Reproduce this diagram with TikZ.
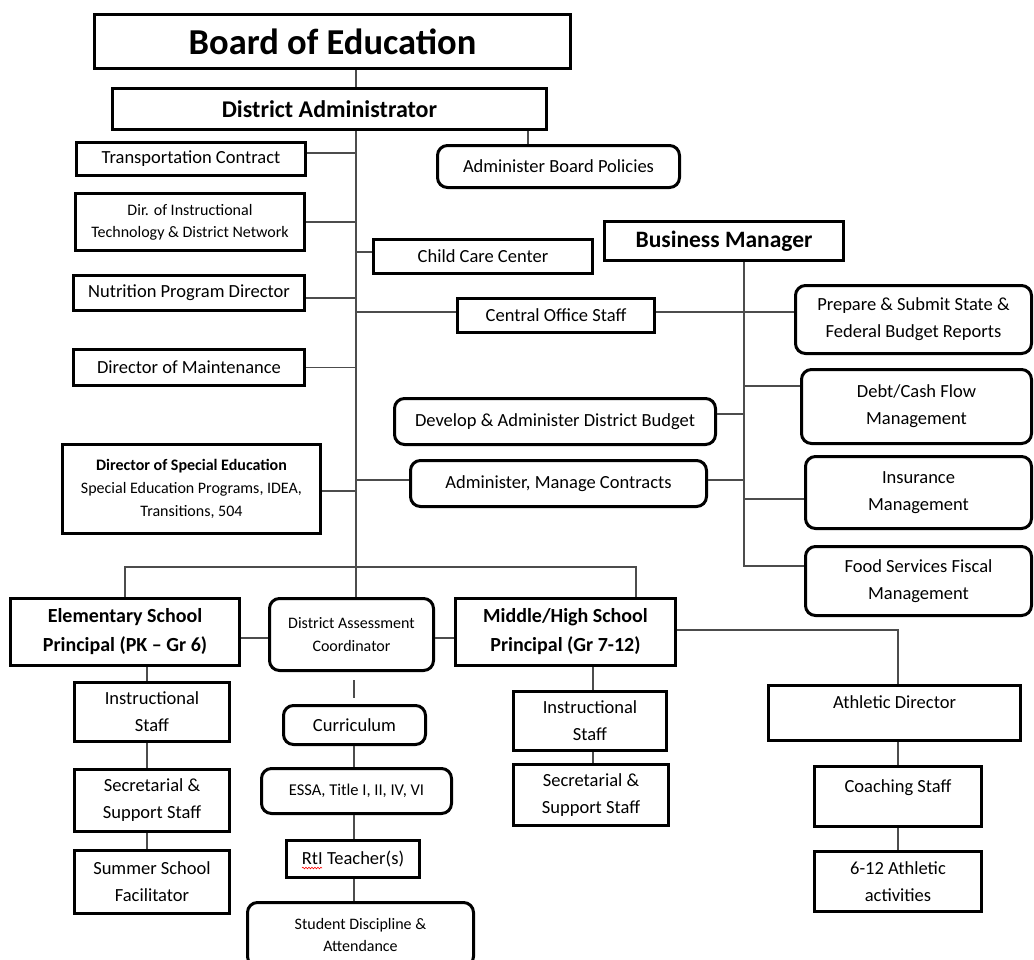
\documentclass[tikz,border=0pt]{standalone}
\usepackage{fontspec}
\setmainfont{Carlito}
\usetikzlibrary{decorations.pathmorphing}
\begin{document}
\begin{tikzpicture}[x=1pt,y=-1pt,
  box/.style={draw=black, line width=3pt, inner sep=2pt, align=center, fill=white, font=\fontsize{18.5}{27}\selectfont},
  rbox/.style={box, rounded corners=10pt},
  sz/.style 2 args={minimum width=#1pt, minimum height=#2pt},
  bold20/.style={font=\fontsize{20}{29}\selectfont\bfseries},
  small16/.style={font=\fontsize{16}{23}\selectfont},
  conn/.style={draw=black!70, line width=1.3pt}]
\useasboundingbox (0,0) rectangle (1034,959);
\clip (0,0) rectangle (1034,959);
\fill[white] (0,0) rectangle (1034,959);

% nodes
\node[box, sz={476}{54}, line width=3.5pt, font=\fontsize{36.5}{40}\selectfont\bfseries] (board) at (332.5,41.5) {Board of Education};
\node[box, sz={434}{41}, font=\fontsize{24}{28}\selectfont\bfseries] (da) at (329.5,109) {District Administrator};
\node[box, sz={229}{33}] (trans) at (191,159) {Transportation Contract};
\node[rbox, sz={242}{42}] (abp) at (558.5,166.5) {Administer Board Policies};
\node[box, sz={229}{57}, font=\fontsize{16}{22}\selectfont] (dit) at (190,222) {Dir. of Instructional\\Technology \& District Network};
\node[box, sz={219}{34}] (ccc) at (483,256.5) {Child Care Center};
\node[box, sz={239}{39}, font=\fontsize{23.5}{27}\selectfont\bfseries] (bm) at (724,241) {Business Manager};
\node[box, sz={231}{35}] (nut) at (189,293) {Nutrition Program Director};
\node[box, sz={197}{34}] (cos) at (556,315.5) {Central Office Staff};
\node[rbox, sz={236}{68}] (prep) at (913.5,319.5) {Prepare \& Submit State \&\\Federal Budget Reports};
\node[box, sz={231}{36}] (maint) at (189,367.5) {Director of Maintenance};
\node[rbox, sz={321}{46}] (dev) at (555,421.5) {Develop \& Administer District Budget};
\node[rbox, sz={230}{74}] (debt) at (916.5,406.5) {Debt/Cash Flow\\Management};
\node[box, sz={258}{89}, small16] (sped) at (191.5,489) {\textbf{Director of Special Education}\\Special Education Programs, IDEA,\\Transitions, 504};
\node[rbox, sz={296}{46}] (amc) at (558.5,483.5) {Administer, Manage Contracts};
\node[rbox, sz={226}{72}] (ins) at (918.5,492.5) {Insurance\\Management};
\node[rbox, sz={226}{69}] (food) at (918.5,581) {Food Services Fiscal\\Management};
\node[box, sz={229}{67}, bold20] (elem) at (125,632) {Elementary School\\Principal (PK – Gr 6)};
\node[rbox, sz={164}{72}, small16] (dac) at (351.5,634.5) {District Assessment\\Coordinator};
\node[box, sz={220}{67}, bold20] (mh) at (565.5,632) {Middle/High School\\Principal (Gr 7-12)};
\node[box, sz={252}{55}] (ad) at (894.5,713) {Athletic Director\\[-6pt]\mbox{}};
\node[box, sz={155}{59}] (ei) at (152,712) {Instructional\\Staff};
\node[box, sz={155}{62}] (es) at (152,800.5) {Secretarial \&\\Support Staff};
\node[box, sz={155}{63}] (ess) at (152,882) {Summer School\\Facilitator};
\node[rbox, sz={142}{39}] (cur) at (354.5,725) {Curriculum};
\node[rbox, sz={190}{45}, font=\fontsize{16.5}{23}\selectfont] (essa) at (356.5,791) {ESSA, Title I, II, IV, VI};
\node[box, sz={133}{37}] (rti) at (353,859) {RtI Teacher(s)};
\node[rbox, sz={226}{64}, font=\fontsize{16}{22}\selectfont] (sd) at (360.5,934.5) {Student Discipline \&\\Attendance};
\node[box, sz={153}{59}] (mi) at (590,721) {Instructional\\Staff};
\node[box, sz={155}{61}] (ms) at (591,795) {Secretarial \&\\Support Staff};
\node[box, sz={167}{60}] (cs) at (898,796.5) {Coaching Staff\\[-6pt]\mbox{}};
\node[box, sz={167}{60}] (ath) at (898,881.5) {6-12 Athletic\\activities};

% helper coordinates
\coordinate (tx) at (356,0);
\coordinate (ax) at (528,0);
\coordinate (bx) at (744,0);
\coordinate (py) at (0,567);
\coordinate (mx) at (636,0);
\coordinate (ly) at (0,638);
\coordinate (ay) at (0,630);
\coordinate (cx) at (898,0);
\coordinate (ex) at (147,0);
\coordinate (mx2) at (593,0);
\coordinate (cx2) at (354,0);

% connectors
\draw[conn] (board.south -| tx) -- (da.north -| tx);
\draw[conn] (da.south -| tx) -- (dac.north -| tx);
\draw[conn] (da.south -| ax) -- (abp.north -| ax);
\draw[conn] ([yshift=6pt]trans.east) -- ([yshift=6pt]trans.east -| tx);
\draw[conn] (dit.east) -- (dit.east -| tx);
\draw[conn] ([yshift=4.5pt]ccc.west -| tx) -- ([yshift=4.5pt]ccc.west);
\draw[conn] ([yshift=-5pt]nut.east) -- ([yshift=-5pt]nut.east -| tx);
\draw[conn] ([yshift=3.5pt]cos.west -| tx) -- ([yshift=3.5pt]cos.west);
\draw[conn] ([yshift=3.5pt]cos.east) -- ([yshift=3.5pt]cos.east -| prep.west);
\draw[conn] (maint.east) -- (maint.east -| tx);
\draw[conn] ([yshift=-2pt]sped.east) -- ([yshift=-2pt]sped.east -| tx);
\draw[conn] ([yshift=3.5pt]amc.west -| tx) -- ([yshift=3.5pt]amc.west);
\draw[conn] ([yshift=3.5pt]amc.east) -- ([yshift=3.5pt]amc.east -| bx);
\draw[conn] ([yshift=7.5pt]dev.east) -- ([yshift=7.5pt]dev.east -| bx);
\draw[conn] (bm.south -| bx) |- ([yshift=15pt]food.west);
\draw[conn] ([yshift=20.5pt]debt.west -| bx) -- ([yshift=20.5pt]debt.west);
\draw[conn] ([yshift=-6.5pt]ins.west -| bx) -- ([yshift=-6.5pt]ins.west);
\draw[conn] (elem.north) |- (py -| mx) -- (mh.north -| mx);
\draw[conn] (elem.east |- ly) -- (dac.west |- ly);
\draw[conn] (dac.east |- ly) -- (mh.west |- ly);
\draw[conn] (mh.east |- ay) -| (ad.north -| cx);
\draw[conn] (ad.south -| cx) -- (cs.north -| cx);
\draw[conn] (cs.south -| cx) -- (ath.north -| cx);
\draw[conn] (elem.south -| ex) -- (ei.north -| ex);
\draw[conn] (ei.south -| ex) -- (es.north -| ex);
\draw[conn] (es.south -| ex) -- (ess.north -| ex);
\draw[conn] (mh.south -| mx2) -- (mi.north -| mx2);
\draw[conn] (mi.south -| mx2) -- (ms.north -| mx2);
\draw[conn] ([yshift=-8pt]dac.south -| cx2) -- ([yshift=6pt]cur.north -| cx2);
\draw[conn] (cur.south -| cx2) -- (essa.north -| cx2);
\draw[conn] (essa.south -| cx2) -- (rti.north -| cx2);
\draw[conn] (rti.south -| cx2) -- (sd.north -| cx2);

% spell-check squiggle under RtI
\draw[red, line width=0.6pt, decorate, decoration={snake, amplitude=0.8pt, segment length=3pt}]
  ([xshift=-51pt,yshift=-9pt]rti.center) -- ([xshift=-31pt,yshift=-9pt]rti.center);
\end{tikzpicture}
\end{document}
